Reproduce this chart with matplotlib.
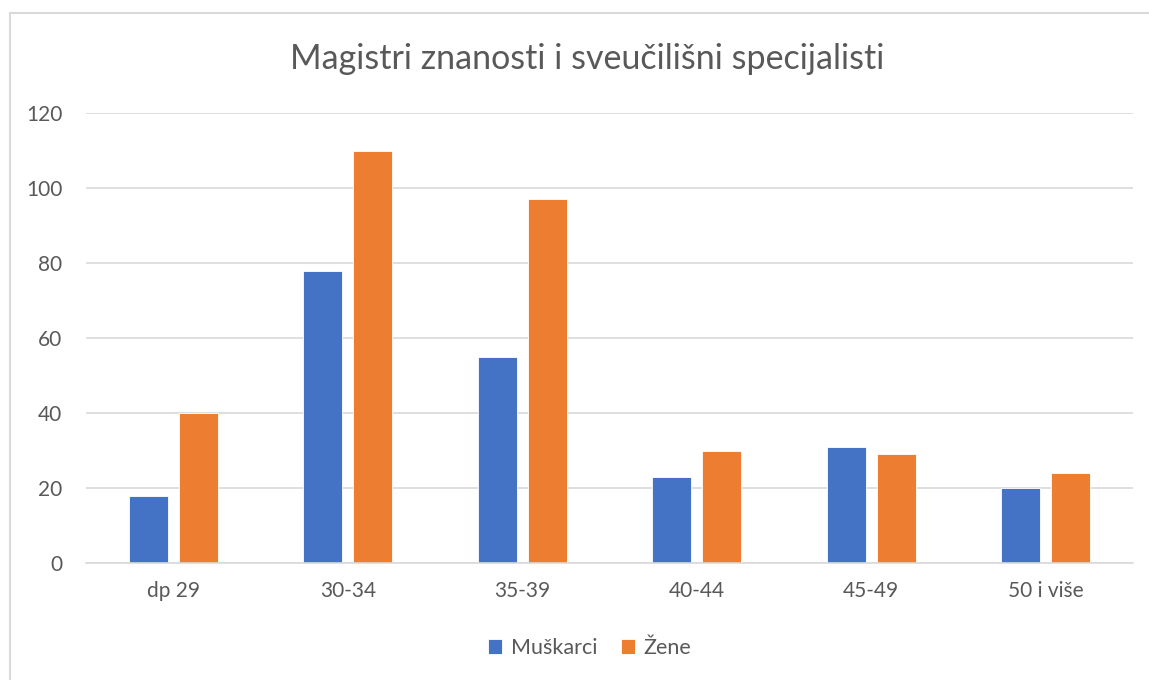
import matplotlib.pyplot as plt
import numpy as np
from matplotlib.patches import Rectangle

categories = ["dp 29", "30-34", "35-39", "40-44", "45-49", "50 i više"]
muskarci = [18, 78, 55, 23, 31, 20]
zene = [40, 110, 97, 30, 29, 24]
yticks = [0, 20, 40, 60, 80, 100, 120]

plt.rcParams['font.family'] = ['Lato', 'DejaVu Sans']
text_col = "#595959"
grid_col = "#d9d9d9"

fig = plt.figure(figsize=(11.49, 6.8), dpi=100)
ax = fig.add_axes([86 / 1149, 1 - 563 / 680, (1133 - 86) / 1149, (563 - 113) / 680])

x = np.arange(len(categories))
w = 0.2235
off = 0.143
ax.bar(x - off, muskarci, w, color="#4472C4", edgecolor="white", linewidth=0.6, label="Muškarci", zorder=3)
ax.bar(x + off, zene, w, color="#ED7D31", edgecolor="white", linewidth=0.6, label="Žene", zorder=3)

ax.set_xlim(-0.5, len(categories) - 0.5)
ax.set_ylim(0, 120)
ax.set_yticks(yticks)
ax.set_xticks(x)
ax.set_xticklabels(categories)
ax.tick_params(length=0, colors=text_col, labelsize=15)
ax.tick_params(axis="y", pad=17)
ax.tick_params(axis="x", pad=13)
ax.grid(axis="y", color=grid_col, linewidth=1.2, zorder=0)
for s in ["left", "right", "top"]:
    ax.spines[s].set_visible(False)
ax.spines["bottom"].set_color(grid_col)
ax.spines["bottom"].set_linewidth(1.2)
ax.spines["bottom"].set_zorder(4)

fig.text(587 / 1149, 1 - 59 / 680, "Magistri znanosti i sveučilišni specijalisti",
         ha="center", va="center", fontsize=24.5, color=text_col)

fig.legend(loc="center", bbox_to_anchor=(590 / 1149, 1 - 648 / 680), ncol=2, frameon=False,
           fontsize=15.5, labelcolor=text_col, handlelength=0.65, handleheight=0.65,
           handletextpad=0.4, columnspacing=1.1)

fig.patches.append(Rectangle((10 / 1149, -0.1), 1.2, 1.1 - 13 / 680, transform=fig.transFigure,
                             fill=False, edgecolor=grid_col, linewidth=1.5))

fig.savefig("out.png", dpi=100)
